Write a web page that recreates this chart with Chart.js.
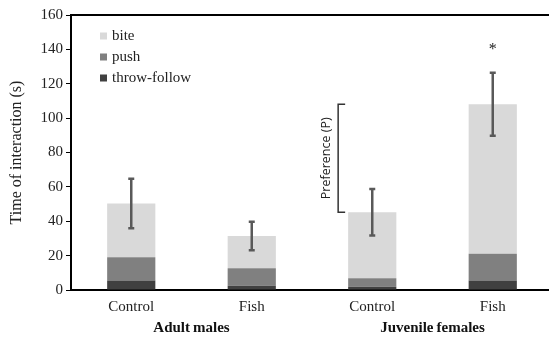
<!DOCTYPE html>
<html lang="en">
<head>
    <meta charset="UTF-8">
    <title>Time of interaction</title>
    <script src="https://cdn.jsdelivr.net/npm/chart.js"></script>
    <style>
        body { margin: 0; overflow: hidden; background: #fff; }
        .chart-box { position: relative; width: 553px; height: 340px; }
    </style>
</head>
<body>
    <div class="chart-box">
        <canvas id="interactionChart"></canvas>
    </div>
    <script>
        const categories = ['Control', 'Fish', 'Control', 'Fish'];
        const groups = ['Adult\u2009males', 'Juvenile\u2009females'];
        const throwFollow = [5.6, 2.5, 1.9, 5.6];
        const push = [13.4, 10.1, 4.9, 15.5];
        const bite = [31.3, 18.8, 38.4, 87.0];
        const errors = [14.4, 8.3, 13.5, 18.3];
        const sigMarks = ['', '', '', '*'];
        const yTicks = [0, 20, 40, 60, 80, 100, 120, 140, 160];

        const totals = categories.map((c, i) => throwFollow[i] + push[i] + bite[i]);
        const serif = "'Liberation Serif', 'Times New Roman', serif";

        const extras = {
            id: 'extras',
            afterDatasetsDraw(chart) {
                const { ctx, scales: { x, y } } = chart;
                ctx.save();
                // error bars
                ctx.strokeStyle = '#595959';
                ctx.lineWidth = 2.5;
                totals.forEach((t, i) => {
                    const px = x.getPixelForValue(i);
                    const hi = y.getPixelForValue(t + errors[i]);
                    const lo = y.getPixelForValue(t - errors[i]);
                    ctx.beginPath();
                    ctx.moveTo(px, hi); ctx.lineTo(px, lo);
                    ctx.moveTo(px - 3, hi); ctx.lineTo(px + 3, hi);
                    ctx.moveTo(px - 3, lo); ctx.lineTo(px + 3, lo);
                    ctx.stroke();
                    if (sigMarks[i]) {
                        ctx.fillStyle = '#222';
                        ctx.font = '16px ' + serif;
                        ctx.textAlign = 'center';
                        ctx.textBaseline = 'alphabetic';
                        ctx.fillText(sigMarks[i], px, hi - 19);
                    }
                });
                // preference bracket between juvenile control and fish totals
                const bar = chart.getDatasetMeta(0).data[2];
                const bx = bar.x - bar.width / 2 - 10;
                const top = y.getPixelForValue(totals[3]);
                const bottom = y.getPixelForValue(totals[2]);
                ctx.strokeStyle = '#333';
                ctx.lineWidth = 1.5;
                ctx.beginPath();
                ctx.moveTo(bx + 7, top); ctx.lineTo(bx, top);
                ctx.lineTo(bx, bottom); ctx.lineTo(bx + 7, bottom);
                ctx.stroke();
                ctx.translate(bx - 12, (top + bottom) / 2);
                ctx.rotate(-Math.PI / 2);
                ctx.fillStyle = '#222';
                ctx.font = "12.5px 'Open Sans', sans-serif";
                ctx.textAlign = 'center';
                ctx.textBaseline = 'middle';
                ctx.fillText('Preference (P)', 0, 0);
                ctx.restore();
            },
            afterDraw(chart) {
                const { ctx, chartArea } = chart;
                ctx.save();
                ctx.font = '15px ' + serif;
                ctx.textBaseline = 'middle';
                ctx.textAlign = 'left';
                const items = chart.data.datasets.slice().reverse();
                items.forEach((ds, i) => {
                    const ly = chartArea.top + 21 + i * 21;
                    ctx.fillStyle = ds.backgroundColor;
                    ctx.fillRect(chartArea.left + 29, ly - 3.5, 7, 7);
                    ctx.fillStyle = '#222';
                    ctx.fillText(ds.label, chartArea.left + 41, ly);
                });
                ctx.restore();
            }
        };

        new Chart(document.getElementById('interactionChart'), {
            type: 'bar',
            data: {
                labels: categories,
                datasets: [
                    { label: 'throw-follow', data: throwFollow, backgroundColor: '#404040' },
                    { label: 'push', data: push, backgroundColor: '#808080' },
                    { label: 'bite', data: bite, backgroundColor: '#d9d9d9' }
                ]
            },
            options: {
                responsive: true,
                maintainAspectRatio: false,
                animation: false,
                barPercentage: 0.4,
                categoryPercentage: 1.0,
                layout: { padding: { top: 15, left: 0, right: 0, bottom: 0 } },
                plugins: { legend: { display: false }, tooltip: { enabled: false } },
                scales: {
                    x: {
                        stacked: true,
                        grid: { display: false, drawTicks: false },
                        border: { display: true, color: '#000', width: 2 },
                        ticks: { color: '#222', padding: 8, font: { family: serif, size: 15 } },
                        afterFit: (s) => { s.height = 26; }
                    },
                    x2: {
                        type: 'category',
                        labels: groups,
                        position: 'bottom',
                        weight: 1,
                        offset: true,
                        grid: { display: false, drawTicks: false },
                        border: { display: false },
                        ticks: { color: '#111', padding: 3, font: { family: serif, size: 15, weight: 'bold' } }
                    },
                    xTop: {
                        type: 'category',
                        labels: categories,
                        position: 'top',
                        grid: { display: false, drawTicks: false },
                        border: { display: true, color: '#000', width: 2 },
                        ticks: { display: false }
                    },
                    y: {
                        stacked: true,
                        min: 0,
                        max: 160,
                        afterBuildTicks: (s) => { s.ticks = yTicks.map(v => ({ value: v })); },
                        grid: { drawOnChartArea: false, drawTicks: true, tickLength: 5, color: '#000' },
                        border: { display: true, color: '#000', width: 2 },
                        ticks: { color: '#222', padding: 3, font: { family: serif, size: 15 } },
                        title: {
                            display: true,
                            text: 'Time of interaction (s)',
                            color: '#222',
                            padding: { top: 7, bottom: 0 },
                            font: { family: serif, size: 16 }
                        },
                        afterFit: (s) => { s.width = 71; }
                    }
                }
            },
            plugins: [extras]
        });
    </script>
</body>
</html>
